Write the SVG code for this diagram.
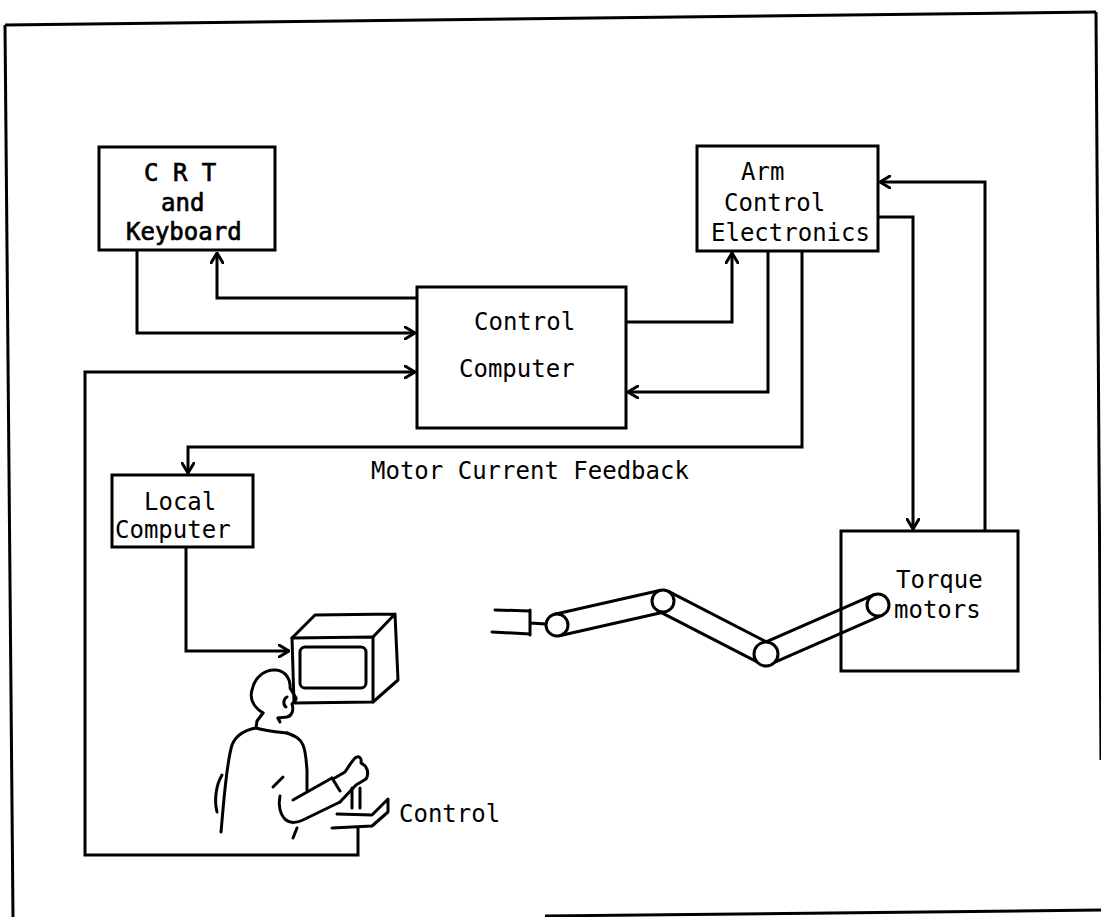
<svg xmlns="http://www.w3.org/2000/svg" width="1101" height="917" viewBox="0 0 1101 917">
  <style>
    .box { fill: none; stroke: #000; stroke-width: 3; }
    .wire { fill: none; stroke: #000; stroke-width: 3; stroke-linejoin: miter; }
    .ink { fill: none; stroke: #000; stroke-width: 3; stroke-linecap: round; stroke-linejoin: round; }
    .frame { fill: none; stroke: #000; stroke-width: 3; }
    .lbl { font-family: "DejaVu Sans Mono", "Liberation Mono", monospace; font-size: 24px; fill: #000; }
    .bold { stroke: #000; stroke-width: 0.7; }
  </style>
  <defs>
    <marker id="arr" viewBox="0 0 12 14" refX="11" refY="7" markerWidth="12" markerHeight="14" markerUnits="userSpaceOnUse" orient="auto">
      <path d="M1,1 L11,7 L1,13" fill="none" stroke="#000" stroke-width="3" stroke-linecap="round" stroke-linejoin="round"/>
    </marker>
  </defs>

  <rect width="1101" height="917" fill="#fff"/>

  <!-- page frame -->
  <g id="frame">
    <path class="frame" d="M5,25 L1096,12"/>
    <path class="frame" d="M5,25 L13,917" stroke-width="2"/>
    <path class="frame" d="M1096,12 L1101,760"/>
    <path class="frame" d="M545,916 L1101,910"/>
  </g>

  <!-- connectors -->
  <g id="connectors">
    <path class="wire" d="M416,298 H217 V253" marker-end="url(#arr)"/>
    <path class="wire" d="M137,250 V333 H415" marker-end="url(#arr)"/>
    <path class="wire" d="M358,828 V855 H85 V372 H415" marker-end="url(#arr)"/>
    <path class="wire" d="M626,322 H732 V253" marker-end="url(#arr)"/>
    <path class="wire" d="M768,251 V392 H628" marker-end="url(#arr)"/>
    <path class="wire" d="M802,251 V447 H188 V473" marker-end="url(#arr)"/>
    <path class="wire" d="M186,547 V651 H289" marker-end="url(#arr)"/>
    <path class="wire" d="M878,217 H913 V529" marker-end="url(#arr)"/>
    <path class="wire" d="M985,531 V182 H880" marker-end="url(#arr)"/>
  </g>

  <!-- CRT and Keyboard -->
  <g id="crt-keyboard">
    <rect class="box" x="99" y="147" width="176" height="103"/>
    <text class="lbl bold" x="144" y="181">C R T</text>
    <text class="lbl bold" x="161" y="211">and</text>
    <text class="lbl bold" x="126" y="240">Keyboard</text>
  </g>

  <!-- Control Computer -->
  <g id="control-computer">
    <rect class="box" x="417" y="287" width="209" height="141"/>
    <text class="lbl" x="474" y="330">Control</text>
    <text class="lbl" x="459" y="377">Computer</text>
  </g>

  <!-- Arm Control Electronics -->
  <g id="arm-control-electronics">
    <rect class="box" x="697" y="146" width="181" height="105"/>
    <text class="lbl" x="741" y="180">Arm</text>
    <text class="lbl" x="724" y="211">Control</text>
    <text class="lbl" x="711" y="241">Electronics</text>
  </g>

  <!-- Local Computer -->
  <g id="local-computer">
    <rect class="box" x="112" y="475" width="141" height="72"/>
    <text class="lbl" x="144" y="510">Local</text>
    <text class="lbl" x="115" y="538">Computer</text>
  </g>

  <!-- feedback label -->
  <g id="feedback-label">
    <text class="lbl" x="371" y="479">Motor Current Feedback</text>
  </g>

  <!-- Torque motors -->
  <g id="torque-motors">
    <rect class="box" x="841" y="531" width="177" height="140"/>
    <text class="lbl" x="896" y="588">Torque</text>
    <text class="lbl" x="894" y="618">motors</text>
  </g>

  <!-- robot arm -->
  <g id="robot-arm">
    <path class="ink" d="M495,610 L530,611 M530,610 L530,635 M492,632 L530,634 M530,623 L546,624"/>
    <path class="ink" d="M554.6,614.3 L660.6,590.3 M559.4,635.7 L665.4,611.7"/>
    <path class="ink" d="M668,591.2 L771,644.2 M658,610.8 L761,663.8"/>
    <path class="ink" d="M761.6,643.9 L873.6,594.9 M770.4,664.1 L882.4,615.1"/>
    <circle cx="557" cy="625" r="11" fill="#fff" stroke="#000" stroke-width="3"/>
    <circle cx="663" cy="601" r="11" fill="#fff" stroke="#000" stroke-width="3"/>
    <circle cx="766" cy="654" r="12" fill="#fff" stroke="#000" stroke-width="3"/>
    <circle cx="878" cy="605" r="11" fill="#fff" stroke="#000" stroke-width="3"/>
  </g>

  <!-- monitor -->
  <g id="monitor">
    <path class="ink" d="M292,638 L373,637 L373,702 L294,703 Z"/>
    <path class="ink" d="M292,638 L315,615 L395,614 L373,637 M395,614 L398,680 L373,702"/>
    <rect class="ink" x="300" y="647" width="66" height="41" rx="5"/>
  </g>

  <!-- operator -->
  <g id="operator">
    <path class="ink" d="M263,713 C255,708 249,700 252,690 C255,676 266,669 276,670 C286,671 291,680 290,688 L296,698 C297,701 293,702 292,704 C294,710 292,716 287,717 L278,718"/>
    <path class="ink" d="M287,697 C283,699 283,705 286,707"/>
    <path class="ink" d="M263,713 L257,721 L256,728 C265,731 277,732 287,733 M278,718 L280,722"/>
    <path class="ink" d="M256,728 C245,730 236,735 232,745 C226,765 224,800 221,832"/>
    <path class="ink" d="M287,733 C295,736 300,738 303,745 C306,752 306,760 307,770 L307,790"/>
    <path class="ink" d="M222,775 C216,785 214,800 217,812"/>
    <path class="ink" d="M273,787 L283,777"/>
    <path class="ink" d="M280,796 C278,805 280,815 286,820 C291,824 299,822 305,819 L340,802"/>
    <path class="ink" d="M293,800 L300,796 M300,796 L332,778"/>
    <path class="ink" d="M332,778 L340,791"/>
    <path class="ink" d="M333,779 L345,772 C349,766 352,761 355,758 C359,755 362,758 361,763 C366,765 370,772 366,779 L356,785 L340,802"/>
    <path class="ink" d="M297,828 L293,838"/>
  </g>

  <!-- hand control -->
  <g id="hand-control">
    <path class="ink" d="M352,788 V808 M360,788 V808"/>
    <path class="ink" d="M337,814 L372,815 L388,799 L388,812 L372,826 M332,828 L372,826"/>
    <text class="lbl" x="399" y="822">Control</text>
  </g>
</svg>
